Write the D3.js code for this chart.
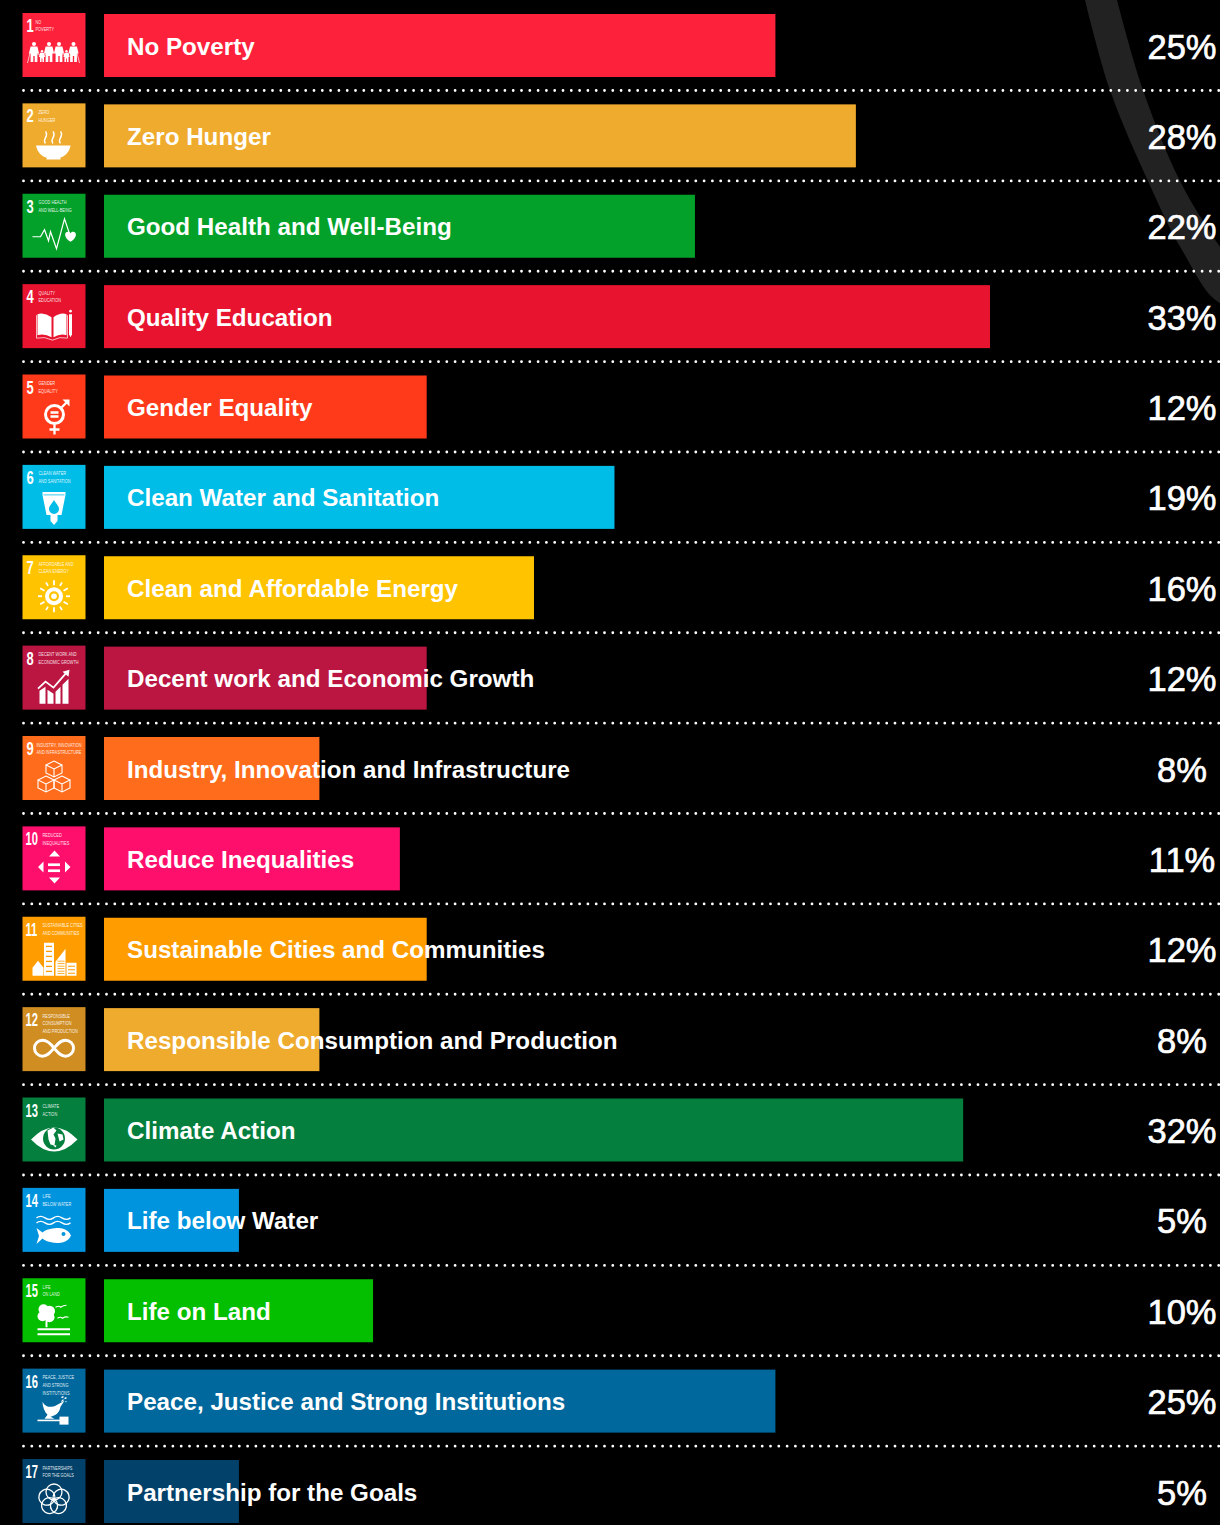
<!DOCTYPE html>
<html><head><meta charset="utf-8">
<script src="https://cdn.jsdelivr.net/npm/d3@7"></script>
<style>html,body{margin:0;background:#000}svg{display:block}</style>
</head><body><div id="c"></div>
<script>
const goals=["No Poverty","Zero Hunger","Good Health and Well-Being","Quality Education","Gender Equality","Clean Water and Sanitation","Clean and Affordable Energy","Decent work and Economic Growth","Industry, Innovation and Infrastructure","Reduce Inequalities","Sustainable Cities and Communities","Responsible Consumption and Production","Climate Action","Life below Water","Life on Land","Peace, Justice and Strong Institutions","Partnership for the Goals"];
const percents=[25,28,22,33,12,19,16,12,8,11,12,8,32,5,10,25,5];
const barColors=["#FE213B","#EFAB2D","#03A12A","#E8142F","#FF3A1A","#00BDE8","#FFC300","#BB1541","#FF6C1B","#FF0F6C","#FF9D00","#EFAB2D","#047F3E","#0094DE","#04BE00","#00689D","#02426A"];
const iconColors=["#FE213B","#EFAB2D","#03A12A","#E8142F","#FF3A1A","#00BDE8","#FFC300","#BB1541","#FF6C1B","#FF0F6C","#FF9D00","#CF8D22","#047F3E","#0094DE","#04BE00","#00689D","#02426A"];
const captions=[["NO","POVERTY"],["ZERO","HUNGER"],["GOOD HEALTH","AND WELL-BEING"],["QUALITY","EDUCATION"],["GENDER","EQUALITY"],["CLEAN WATER","AND SANITATION"],["AFFORDABLE AND","CLEAN ENERGY"],["DECENT WORK AND","ECONOMIC GROWTH"],["INDUSTRY, INNOVATION","AND INFRASTRUCTURE"],["REDUCED","INEQUALITIES"],["SUSTAINABLE CITIES","AND COMMUNITIES"],["RESPONSIBLE","CONSUMPTION","AND PRODUCTION"],["CLIMATE","ACTION"],["LIFE","BELOW WATER"],["LIFE","ON LAND"],["PEACE, JUSTICE","AND STRONG","INSTITUTIONS"],["PARTNERSHIPS","FOR THE GOALS"]];
const arcLeft=[[0,1085],[90,1110],[181,1148],[250,1182],[303,1220]];
const arcRight=[[0,1117],[90,1143],[181,1180],[247,1220],[303,1262]];

const person=(x,h,top)=>{const t=top-h,w=h*.17;return `<circle cx="${x}" cy="${t+h*.1}" r="${h*.1}"/><path d="M${x-w} ${t+h*.22}h${w*2}l${w*.5} ${h*.36}h-${w*.5}v${h*.42}h-${w*.8}v-${h*.3}h-${w*.4}v${h*.3}h-${w*.8}v-${h*.42}h-${w*.5}z"/>`};
const S='fill="none" stroke="#fff"';
const icons=[
 person(11.500,20,49)+person(19.500,12,49)+person(26.500,20,49)+person(36.500,20,49)+person(44,12,49)+person(51,20,49)+`<path d="M8 38L5 50M54 38L57 50" ${S} stroke-width=".7"/><path d="M12 40L18 42M22 42L26 40M37 40L43 42M47 42L51 40" ${S} stroke-width=".6"/>`,
 `<path d="M13.500 42H48C47 49 42 53 38 54V56H24V54C19 53 15 49 13.500 42Z"/><path d="M23 40c-4-4 4-7 0-12M30.500 40c-4-4 4-7 0-12M38 40c-4-4 4-7 0-12" ${S} stroke-width="1.500"/>`,
 `<path d="M10 43H18L22 36L26 47L28 38L34 55L42 25L47 40" ${S} stroke-width="1.200"/><path d="M48 48c-7-4-6.500-10-2.500-10 1.300 0 2 .6 2.500 1.600.5-1 1.200-1.600 2.500-1.600 4 0 4.500 6-2.500 10z"/>`,
 `<path d="M15 30Q22 28 29 33V53Q22 49 15 51ZM31 33Q38 28 44 30V51Q38 49 31 53Z"/><path d="M14 31V54Q22 52 30 56Q37 52 45 54V31" ${S} stroke-width=".7"/><path d="M46.500 30h3v20l-1.500 3-1.500-3z"/><circle cx="48" cy="27" r="1.300"/>`,
 `<circle cx="32" cy="40" r="9" ${S} stroke-width="3"/><path d="M28 38h8M28 42h8M32 50v10M27 55h10M38 34L45 27" ${S} stroke-width="2.300"/><path d="M40 25h7v7z"/>`,
 `<path d="M20 27H43V30L39 50H35V56L31.500 60 28 56V50H24L20 30Z"/><path d="M31.500 35c3 5 5 6 5 9a5 5 0 0 1-10 0c0-3 2-4 5-9z" fill="${iconColors[5]}"/><path d="M21 30H42" stroke="${iconColors[5]}" stroke-width=".8"/>`,
 `<circle cx="31.500" cy="41" r="9"/><circle cx="31.500" cy="41" r="5" fill="${iconColors[6]}"/><circle cx="31.500" cy="41" r="2.800"/>`+d3.range(12).map(i=>`<rect x="30.600" y="25" width="1.800" height="${i%2?4:5}" transform="rotate(${i*30} 31.500 41)"/>`).join(""),
 `<path d="M17 45l6-4v17h-6zM25 44l6 4v10h-6zM33 46l5-5v17h-5zM40 39l6-6v25h-6z"/><path d="M15.500 43L23 36L31 42L44 27" ${S} stroke-width="1.800"/><path d="M40 26l7-2-1 7z"/>`,
 [[31.500,25],[23.500,40],[39.500,40]].map(([x,y])=>`<path d="M${x} ${y}l8 4-8 4-8-4zM${x-8} ${y+4}v8l8 4 8-4v-8M${x} ${y+8}v8" ${S} stroke-width="1.100"/>`).join(""),
 `<path d="M32 24l5.500 6H26.500zM32 57l-5.500-6H37.500zM15.500 40.700l5.500-5.500v11zM48 40.700l-5.500-5.500v11z"/><rect x="25.500" y="37" width="12" height="2.700"/><rect x="25.500" y="43" width="12" height="2.700"/>`,
 `<path d="M10 51l5.500-7 5.500 7v8H10z"/><rect x="21.500" y="26" width="10" height="33"/><path d="M33 59V45l10-13v27z"/><rect x="44" y="46" width="10" height="13"/>`+d3.range(6).map(i=>`<rect x="23.500" y="${29+i*5}" width="6" height="1.300" fill="${iconColors[10]}"/><rect x="35" y="${44+i*2.500}" width="7" height=".8" fill="${iconColors[10]}"/>`).join("")+d3.range(3).map(i=>`<rect x="45.500" y="${49+i*3.500}" width="7" height="1" fill="${iconColors[10]}"/>`).join(""),
 `<path d="M31.500 41C28 36 25 33 20 33A8 8 0 0 0 20 49C25 49 28 45 31.500 41C35 37 38 33 43 33A8 8 0 0 1 43 49C38 49 35 45 31.500 41" ${S} stroke-width="3"/>`,
 `<path d="M8.500 42Q31.500 18 55 42Q31.500 66 8.500 42Z"/><circle cx="31.500" cy="41" r="11" fill="${iconColors[12]}"/><path d="M25 33l6-3 3 3-3 4 2 4-1 7-4-1-2-5zM35 36l5 1 1 5-4 2zM30 47l4 1-1 2z"/>`,
 `<path d="M14 30q4-3 8.500 0t8.500 0 8.500 0 8.500 0M14 35q4-3 8.500 0t8.500 0 8.500 0 8.500 0" ${S} stroke-width="1.400"/><path d="M14 40l6 4.500C24 41 31 40 36 40 43 40 47 44 48.500 47.500 47 51 43 55 36 55 31 55 24 54 20 50.500L14 56 16.500 48Z"/><circle cx="41" cy="46" r="2" fill="${iconColors[13]}"/>`,
 `<circle cx="21" cy="31" r="5"/><circle cx="27" cy="33" r="5.500"/><circle cx="20" cy="38" r="5"/><circle cx="27" cy="39" r="5"/><rect x="23" y="42" width="2" height="7"/><path d="M33 29q4-2 5 0 3-2 6-2M35 40q3-2 5 0 3-2 6-1" ${S} stroke-width="1.100"/><rect x="15" y="50" width="32.500" height="2"/><rect x="15" y="55" width="32.500" height="2"/>`,
 `<path d="M20 33C23 39 29 39 33 37L42 32 38 38C37 44 33 47 28 48L32 50 22 50 25 46C22 43 20 38 20 33Z"/><path d="M39 33l2-2M42 30l2-1M39 29l2-1M43 33l1 0" ${S} stroke-width="1.400"/><rect x="15" y="51" width="24" height="1.600"/><rect x="37" y="48" width="9" height="8"/>`,
 d3.range(5).map(i=>`<circle cx="31.500" cy="33" r="8" ${S} stroke-width="1.300" transform="rotate(${i*72} 31.500 40.500)"/>`).join("")
];

const W=1220,H=1525;
const svg=d3.select("#c").append("svg").attr("width",W).attr("height",H).attr("viewBox",`0 0 ${W} ${H}`);
svg.append("rect").attr("width",W).attr("height",H).attr("fill","#000");
const x=d3.scaleLinear().domain([0,33]).range([104.8,990]);
const y=d3.scaleLinear().domain([0,16]).range([14,1460]);
const font="'Liberation Sans',Arial,sans-serif";

svg.append("path").attr("d",d3.line().curve(d3.curveCatmullRom)(arcLeft.map(d=>[d[1],d[0]]).concat(arcRight.slice().reverse().map(d=>[d[1],d[0]])))).attr("fill","#222");

const rows=svg.selectAll("g.row").data(goals).join("g").attr("class","row").attr("transform",(d,i)=>`translate(0,${y(i)})`);
rows.append("rect").attr("x",104).attr("y",0).attr("height",63).attr("width",(d,i)=>x(percents[i])-104).attr("fill",(d,i)=>barColors[i]);
rows.filter((d,i)=>i<16).append("line").attr("x1",23.500).attr("x2",1220).attr("y1",76.500).attr("y2",76.500)
 .attr("stroke","#fff").attr("stroke-width",2.800).attr("stroke-linecap","round").attr("stroke-dasharray","0 8.300");
rows.append("text").attr("x",127).attr("y",40.500).text(d=>d).attr("fill","#fff").attr("font-family",font).attr("font-size",24.200)
 .attr("font-weight","bold");
rows.append("text").attr("x",1182).attr("y",44.500).attr("text-anchor","middle").text((d,i)=>percents[i]+"%").attr("fill","#fff").attr("font-family",font).attr("font-size",34.500)
 .attr("stroke","#fff").attr("stroke-width",.7);

const ic=rows.append("g").attr("transform","translate(22.500,-1)");
ic.append("rect").attr("width",63).attr("height",64).attr("fill",(d,i)=>iconColors[i]);
ic.append("g").attr("fill","#fff").html((d,i)=>icons[i]);
ic.append("text").attr("transform",(d,i)=>i<9?`translate(4,19) scale(.72,1)`:`translate(3,19) scale(.62,1)`).text((d,i)=>i+1)
 .attr("fill","#fff").attr("font-family",font).attr("font-weight","bold").attr("font-size",18);
ic.each(function(d,i){
 d3.select(this).selectAll("text.cap").data(captions[i]).join("text").attr("class","cap")
  .attr("transform",(c,j)=>`translate(${i==0?13:i==8?14:i<9?16:20},${10.500+j*7.700}) scale(.78,1)`)
  .text(c=>c).attr("fill","#fff").attr("fill-opacity",.9).attr("font-family",font).attr("font-size",5);
});
</script></body></html>
